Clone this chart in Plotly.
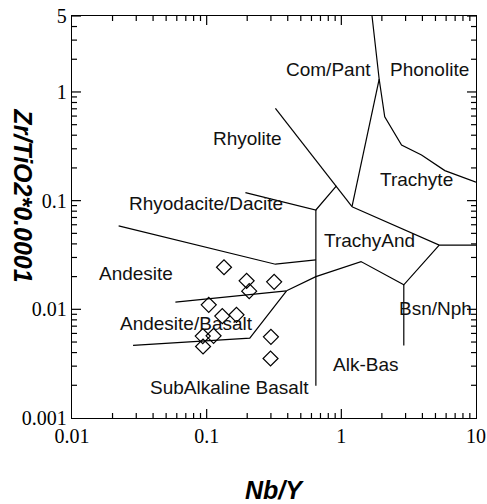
import math
import plotly.graph_objects as go

# Sample compositions: Nb/Y and Zr/TiO2*0.0001
nb_y = [0.1345, 0.198, 0.317, 0.207, 0.1036, 0.1306, 0.1665, 0.0935, 0.1125, 0.094, 0.300, 0.298]
zr_ti = [0.0244, 0.0183, 0.0179, 0.0147, 0.0110, 0.00866, 0.0089, 0.00567, 0.00570, 0.00455, 0.00558, 0.00353]

# Field boundaries (Winchester & Floyd style), each a polyline of (Nb/Y, Zr/TiO2) vertices
boundaries = {
    "comendite_phonolite": ([1.69, 1.91, 2.10, 2.80, 3.94, 5.87, 10.0],
                            [5.0, 1.31, 0.59, 0.325, 0.263, 0.189, 0.148]),
    "comendite_trachyte": ([1.91, 1.20], [1.31, 0.088]),
    "rhyolite_comendite": ([0.324, 0.92, 1.20], [0.707, 0.137, 0.088]),
    "trachyand_top": ([1.20, 5.33, 10.0], [0.088, 0.039, 0.039]),
    "rhyodacite_top": ([0.194, 0.647, 0.92], [0.1185, 0.082, 0.137]),
    "alkaline_divide": ([0.647, 0.647], [0.082, 0.00198]),
    "andesite_top": ([0.0222, 0.324, 0.647], [0.0585, 0.026, 0.0285]),
    "andesite_alkali": ([0.392, 0.647, 1.40, 2.91, 5.33], [0.0148, 0.020, 0.0275, 0.0168, 0.039]),
    "basanite_divide": ([2.91, 2.91], [0.0168, 0.00465]),
    "andesite_basalt_top": ([0.0586, 0.392], [0.01166, 0.0148]),
    "subalkaline_top": ([0.392, 0.209, 0.0284], [0.0148, 0.00544, 0.00465]),
}

# Field names and their anchor positions
field_names = ["Com/Pant", "Phonolite", "Rhyolite", "Trachyte", "Rhyodacite/Dacite", "TrachyAnd",
               "Andesite", "Bsn/Nph", "Andesite/Basalt", "Alk-Bas", "SubAlkaline Basalt"]
field_x = [0.808, 4.54, 0.1996, 3.62, 0.0997, 1.61, 0.0301, 5.01, 0.0708, 1.51, 0.1485]
field_y = [1.61, 1.61, 0.375, 0.155, 0.0946, 0.0429, 0.0212, 0.01026, 0.00747, 0.00309, 0.00191]

x_ticks = [0.01, 0.1, 1, 10]
x_tick_text = ["0.01", "0.1", "1", "10"]
y_ticks = [0.001, 0.01, 0.1, 1, 5]
y_tick_text = ["0.001", "0.01", "0.1", "1", "5"]

# axis ranges (log10) and figure geometry
X_RANGE = (-2.0, 1.0)
Y_RANGE = (-3.0, math.log10(5))
WIDTH, HEIGHT = 487, 504
MARGIN = dict(l=72, r=11, t=16, b=86)
PLOT_W = WIDTH - MARGIN["l"] - MARGIN["r"]
PLOT_H = HEIGHT - MARGIN["t"] - MARGIN["b"]
MAJOR_LEN, MINOR_LEN = 9, 5

fig = go.Figure()

for name, (bx, by) in boundaries.items():
    fig.add_trace(go.Scatter(x=bx, y=by, mode="lines", name=name,
                             line=dict(color="black", width=1.2), hoverinfo="skip"))

fig.add_trace(go.Scatter(x=nb_y, y=zr_ti, mode="markers", name="samples",
                         marker=dict(symbol="diamond-open", size=11.5, color="black",
                                     line=dict(width=1.2, color="black"))))

# annotation positions on log axes are given in log10 units
for t, fx, fy in zip(field_names, field_x, field_y):
    fig.add_annotation(x=math.log10(fx), y=math.log10(fy), xref="x", yref="y", text=t,
                       showarrow=False,
                       font=dict(family="Liberation Sans, Arial", size=19, color="#111"),
                       xanchor="center", yanchor="middle")


def minor_vals(lo_exp, hi_exp, upper):
    vals = []
    for e in range(lo_exp, hi_exp + 1):
        for k in range(2, 10):
            v = k * 10 ** e
            if v < upper:
                vals.append(v)
    return vals


def frac(v, rng):
    """Position of a value along a log axis as a fraction of the axis domain."""
    return (math.log10(v) - rng[0]) / (rng[1] - rng[0])


# inward tick marks on all four sides, drawn as shapes in axis-domain units
tick_style = dict(color="black", width=1.2)
x_major = [v for v in x_ticks if 10 ** X_RANGE[0] < v < 10 ** X_RANGE[1]]
y_major = [v for v in y_ticks if 10 ** Y_RANGE[0] < v < 10 ** Y_RANGE[1]]
for vals, length in ((x_major, MAJOR_LEN), (minor_vals(-2, 0, 10), MINOR_LEN)):
    h = length / PLOT_H
    for v in vals:
        f = frac(v, X_RANGE)
        fig.add_shape(type="line", xref="x domain", yref="y domain",
                      x0=f, x1=f, y0=0, y1=h, line=tick_style)
        fig.add_shape(type="line", xref="x domain", yref="y domain",
                      x0=f, x1=f, y0=1, y1=1 - h, line=tick_style)
for vals, length in ((y_major, MAJOR_LEN), (minor_vals(-3, 0, 5), MINOR_LEN)):
    w = length / PLOT_W
    for v in vals:
        f = frac(v, Y_RANGE)
        fig.add_shape(type="line", xref="x domain", yref="y domain",
                      x0=0, x1=w, y0=f, y1=f, line=tick_style)
        fig.add_shape(type="line", xref="x domain", yref="y domain",
                      x0=1, x1=1 - w, y0=f, y1=f, line=tick_style)

tick_font = dict(family="Liberation Serif, Times New Roman", size=20, color="black")

fig.update_xaxes(type="log", range=list(X_RANGE), tickvals=x_ticks, ticktext=x_tick_text,
                 ticks="", showline=True, linecolor="black", linewidth=1.3, mirror=True,
                 showgrid=False, zeroline=False, tickfont=tick_font, automargin=False)
fig.update_yaxes(type="log", range=list(Y_RANGE), tickvals=y_ticks, ticktext=y_tick_text,
                 ticks="", showline=True, linecolor="black", linewidth=1.3, mirror=True,
                 showgrid=False, zeroline=False, tickfont=tick_font, automargin=False)

title_font = dict(family="Liberation Sans, Arial", size=25, color="black")
fig.add_annotation(x=0.5, y=-0.18, xref="paper", yref="paper", text="<b><i>Nb/Y</i></b>",
                   showarrow=False, font=title_font, xanchor="center", yanchor="middle")
fig.add_annotation(x=-0.12, y=0.555, xref="paper", yref="paper",
                   text="<b><i>Zr/TiO2*0.0001</i></b>", textangle=90,
                   showarrow=False, font=title_font, xanchor="center", yanchor="middle")

fig.update_layout(width=WIDTH, height=HEIGHT, showlegend=False,
                  paper_bgcolor="white", plot_bgcolor="white", margin=MARGIN)

fig.write_html("out.html")
